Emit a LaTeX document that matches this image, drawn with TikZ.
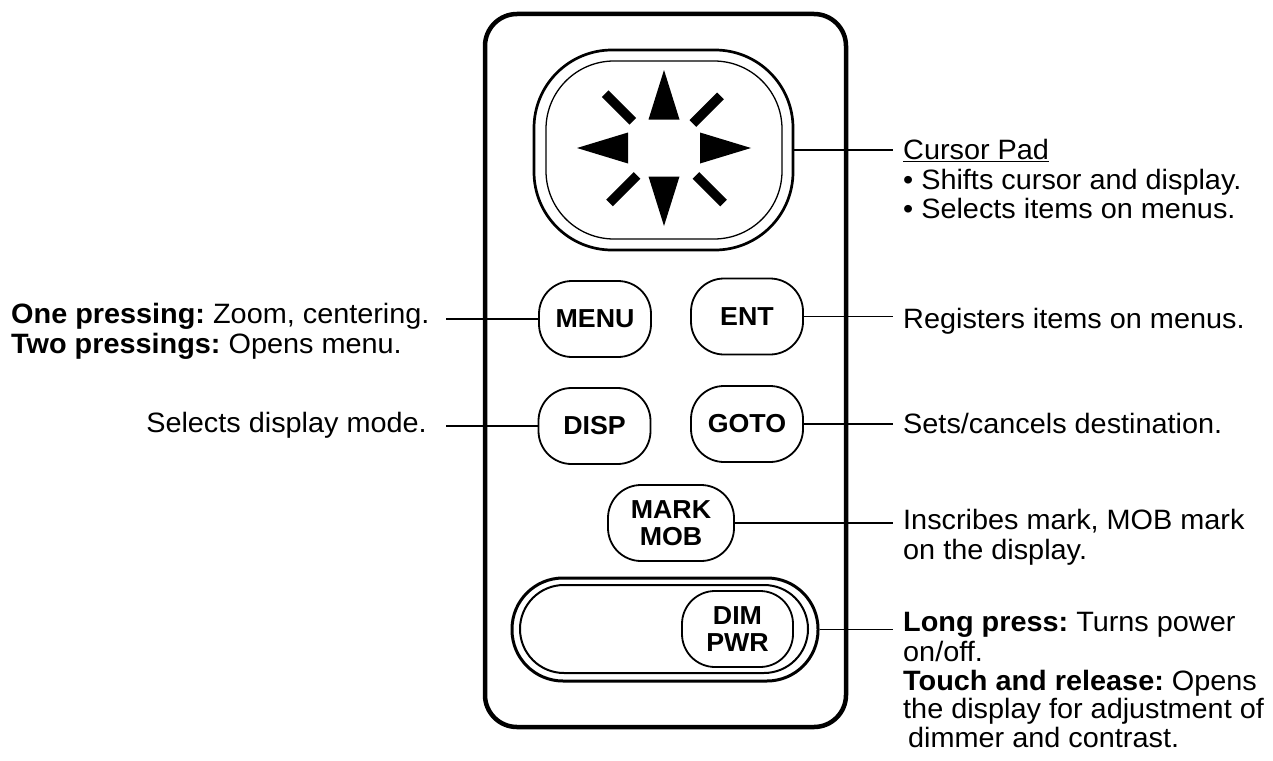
\documentclass[tikz,border=0pt]{standalone}
\usepackage{fontspec}
\setmainfont[FakeStretch=1.03]{Liberation Sans}
\usepackage{tikz}
\usetikzlibrary{calc,positioning}
\frenchspacing

\tikzset{
	housing/.style={draw, line width=4.5pt, rounded corners=32pt},
	key/.style={draw, line width=1.8pt, rounded corners=33pt, minimum width=112pt, minimum height=76pt, inner sep=0pt, align=center, font=\fontsize{26}{26.5}\selectfont\bfseries},
	wire/.style={line width=1.6pt},
	note/.style={inner sep=0pt, align=left, font=\fontsize{28}{28.8}\selectfont},
	tick/.style={line width=9.5pt},
}

\begin{document}
\begin{tikzpicture}[x=1pt,y=-1pt]
		\useasboundingbox (0,0) rectangle (1273,760);
		% housing and cursor pad
		\node[housing, minimum width=361pt, minimum height=713pt] (case) at (665.5,370.5) {};
		\node[draw, line width=2.7pt, rounded corners=78pt, minimum width=259pt, minimum height=200pt] (pad) at (663.5,150) {};
		\node[draw, line width=1.3pt, rounded corners=68pt, minimum width=236pt, minimum height=178pt] (padin) at (664,150) {};
		\coordinate (mid) at (664,148);
		\fill ($(mid)+(0,-78)$) -- ($(mid)+(-15.5,-28.5)$) -- ($(mid)+(15.5,-28.5)$) -- cycle;
		\fill ($(mid)+(0,78)$) -- ($(mid)+(-15.5,28.5)$) -- ($(mid)+(15.5,28.5)$) -- cycle;
		\fill ($(mid)+(-87,0)$) -- ($(mid)+(-36,-15.5)$) -- ($(mid)+(-36,15.5)$) -- cycle;
		\fill ($(mid)+(87,0)$) -- ($(mid)+(36,-15.5)$) -- ($(mid)+(36,15.5)$) -- cycle;
		\draw[tick] ($(mid)+(-58.8,-54.3)$) -- ($(mid)+(-31.2,-26.7)$);
		\draw[tick] ($(mid)+(28.9,-24.5)$) -- ($(mid)+(56.5,-52.1)$);
		\draw[tick] ($(mid)+(-26.9,27.4)$) -- ($(mid)+(-54.5,55)$);
		\draw[tick] ($(mid)+(31.9,27.4)$) -- ($(mid)+(59.5,55)$);
		% keys
		\node[key] (menu) at (595,319) {MENU};
		\node[key] (ent) at (747,316.5) {ENT};
		\node[key] (disp) at (594.5,426) {DISP};
		\node[key] (goto) at (747,424) {GOTO};
		\node[key, minimum width=126pt] (mark) at (671,523) {MARK\\MOB};
		\node[draw, line width=3pt, rounded corners=51pt, minimum width=306pt, minimum height=103pt] (slot) at (665,629.5) {};
		\node[draw, line width=2pt, rounded corners=44pt, minimum width=288pt, minimum height=88pt] (slotin) at (664,629) {};
		\node[key, minimum width=111pt] (dim) at (737.5,629) {DIM\\PWR};
		% leader ends
		\coordinate (rx) at (893,0);
		\coordinate (lx) at (446,0);
		\draw[wire] (pad.east) -- (pad.east -| rx);
		\draw[wire] (ent.east) -- (ent.east -| rx);
		\draw[wire] (goto.east) -- (goto.east -| rx);
		\draw[wire] (mark.east) -- (mark.east -| rx);
		\draw[wire] (slot.east) -- (slot.east -| rx);
		\draw[wire] (menu.west) -- (menu.west -| lx);
		\draw[wire] (disp.west) -- (disp.west -| lx);
		% texts
		\node[note, anchor=north west] (padtxt) at (903,139) {\strut\underline{Cursor Pad}\\\textbullet\ Shifts cursor and display.\\\textbullet\ Selects items on menus.};
		\node[note, anchor=base west] (enttxt) at (903,328) {Registers items on menus.};
		\node[note, anchor=base west] (gototxt) at (903,433) {Sets/cancels destination.};
		\node[note, anchor=north west] (marktxt) at (903,509) {\strut Inscribes mark, MOB mark\\on the display.};
		\node[note, anchor=north west] (dimtxt) at (903,611) {\strut\textbf{Long press:} Turns power\\on/off.\\\textbf{Touch and release:} Opens\\the display for adjustment of\\\hspace{5pt}dimmer and contrast.};
		\node[note, anchor=north west] (menutxt) at (11,303) {\strut\textbf{One pressing:} Zoom, centering.\\\textbf{Two pressings:} Opens menu.};
		\node[note, anchor=base east] (disptxt) at (427,432) {Selects display mode.};
\end{tikzpicture}
\end{document}
